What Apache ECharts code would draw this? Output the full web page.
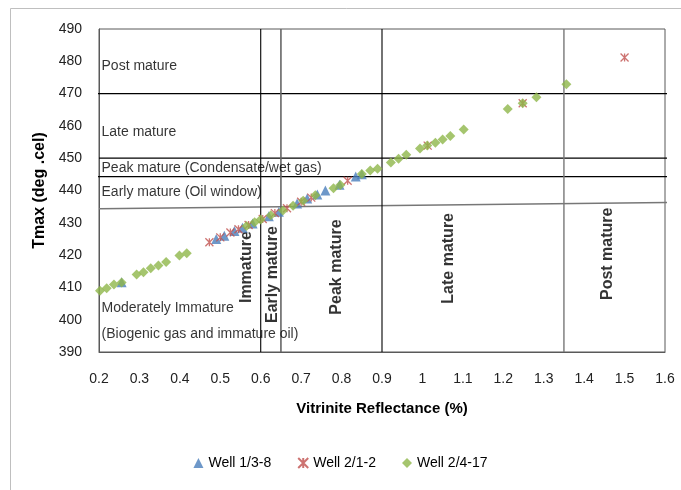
<!DOCTYPE html>
<html><head><meta charset="utf-8">
<script src="https://cdn.jsdelivr.net/npm/echarts@6/dist/echarts.min.js"></script>
<style>html,body{margin:0;padding:0;background:#fff}#c{width:681px;height:490px}</style>
</head><body><div id="c"></div>
<script>
// ---- data ----
const seriesNames = ['Well 1/3-8', 'Well 2/1-2', 'Well 2/4-17'];
const well138 = [[0.256,411.6],[0.49,425],[0.51,426],[0.535,427.5],[0.555,428.5],[0.58,429.8],[0.62,432],[0.645,433.4],[0.69,436],[0.715,437.5],[0.74,438.8],[0.76,440],[0.795,441.8],[0.835,444.3],[0.85,445]];
const well212 = [[0.473,424],[0.50,425.5],[0.525,427],[0.545,428],[0.57,429.3],[0.605,431.2],[0.635,433],[0.665,434.5],[0.70,436.5],[0.725,437.8],[0.815,443],[1.013,453.9],[1.248,467],[1.5,481.2]];
const well2417 = [[0.2025,409],[0.219,409.7],[0.237,410.9],[0.256,411.5],[0.293,414],[0.31,414.7],[0.328,415.9],[0.347,416.8],[0.366,417.9],[0.399,419.9],[0.417,420.6],[0.565,429],[0.585,430.2],[0.6,431],[0.625,432.3],[0.655,433.8],[0.68,435.3],[0.705,436.8],[0.735,438.5],[0.78,440.7],[0.797,441.7],[0.85,445.1],[0.871,446.2],[0.889,446.7],[0.922,448.7],[0.941,449.8],[0.96,451.1],[0.994,453],[1.012,453.9],[1.032,454.8],[1.05,455.8],[1.069,456.9],[1.102,458.9],[1.211,465.2],[1.248,467],[1.282,468.9],[1.356,472.9]];

// zone boundaries
const hBoundaryY = [470, 450, 444.3];
const hBoundaryX = [[0.194, 1.605], [0.2, 1.605], [0.194, 1.605]];
const slantBoundary = [[0.2, 434.35], [1.605, 436.3]];
const vBoundaryX = [0.6, 0.65, 0.9, 1.35];

// zone labels (anchor values)
const hZoneText = ['Post mature', 'Late mature', 'Peak mature (Condensate/wet gas)', 'Early mature (Oil window)', 'Moderately Immature', '(Biogenic gas and immature oil)'];
const hZoneX = [0.205, 0.205, 0.205, 0.205, 0.205, 0.205];
const hZoneY = [478.4, 458, 446.9, 439.6, 403.5, 395.5];
const vZoneText = ['Immature', 'Early mature', 'Peak mature', 'Late mature', 'Post mature'];
const vZoneX = [0.566, 0.63, 0.787, 1.065, 1.459];
const vZoneY = [416.3, 414, 416.3, 419, 420.4];

// axes
const xMin = 0.2, xMax = 1.6, xStep = 0.1;
const yMin = 390, yMax = 490, yStep = 10;

const FONT = '"Liberation Sans", Arial, sans-serif';
const starPath = 'path://M0,0L10,10M10,0L0,10M5,0L5,10';

const lineSeries = [];
hBoundaryY.forEach((y, i) => {
  lineSeries.push({type:'line', silent:true, clip:false, symbol:'none', z:1,
    lineStyle:{color:'#000', width:1.2}, data:[[hBoundaryX[i][0], y],[hBoundaryX[i][1], y]]});
});
lineSeries.push({type:'line', silent:true, clip:false, symbol:'none', z:1,
  lineStyle:{color:'#777', width:1.6}, data: slantBoundary});
const vColors = ['#000', '#666', '#000', '#777'];
const vWidths = [1.1, 1.6, 1.1, 1.4];
vBoundaryX.forEach((x, i) => {
  lineSeries.push({type:'line', silent:true, symbol:'none', z:1,
    lineStyle:{color:vColors[i], width:vWidths[i]}, data:[[x, yMin],[x, yMax]]});
});

const hLabelSeries = {
  type:'scatter', silent:true, symbolSize:1, itemStyle:{color:'rgba(0,0,0,0)'}, z:3,
  data: hZoneText.map((t, i) => ({name:t, value:[hZoneX[i], hZoneY[i]]})),
  label:{show:true, position:'right', distance:0, formatter:p => p.name,
    color:'#000', fontSize:14, fontFamily:FONT, align:'left', verticalAlign:'middle'}
};
const vLabelSeries = {
  type:'scatter', silent:true, symbolSize:1, itemStyle:{color:'rgba(0,0,0,0)'}, z:3,
  data: vZoneText.map((t, i) => ({name:t, value:[vZoneX[i], vZoneY[i]]})),
  label:{show:true, position:'inside', rotate:90, formatter:p => p.name,
    color:'#000', fontSize:16, fontWeight:'bold', fontFamily:FONT}
};

const chart = echarts.init(document.getElementById('c'));
chart.setOption({
  animation:false,
  backgroundColor:'#fff',
  graphic:[{type:'rect', shape:{x:10.5, y:8.5, width:720, height:520},
    style:{fill:'none', stroke:'#bfbfbf', lineWidth:1}, z:-10}],
  grid:{left:99, right:16, top:29, bottom:138, show:true, borderColor:'#595959', borderWidth:1},
  legend:{data: seriesNames, bottom:15, left:'center', itemGap:26, itemWidth:10, itemHeight:10,
    textStyle:{fontSize:14, fontFamily:FONT, color:'#000'}},
  xAxis:{type:'value', min:xMin, max:xMax, interval:xStep,
    name:'Vitrinite Reflectance (%)', nameLocation:'middle', nameGap:49,
    nameTextStyle:{fontSize:15, fontWeight:'bold', fontFamily:FONT, color:'#000'},
    axisLine:{show:true, lineStyle:{color:'#595959'}}, axisTick:{show:false}, splitLine:{show:false},
    axisLabel:{margin:20, fontSize:14, fontFamily:FONT, color:'#222', formatter:v => String(Math.round(v*10)/10)}},
  yAxis:{type:'value', min:yMin, max:yMax, interval:yStep,
    name:'Tmax (deg .cel)', nameLocation:'middle', nameGap:44, nameRotate:90,
    nameTextStyle:{fontSize:16, fontWeight:'bold', fontFamily:FONT, color:'#000'},
    axisLine:{show:true, lineStyle:{color:'#595959'}}, axisTick:{show:false}, splitLine:{show:false},
    axisLabel:{margin:17, fontSize:14, fontFamily:FONT, color:'#222'}},
  series:[
    ...lineSeries,
    hLabelSeries, vLabelSeries,
    {name:seriesNames[0], type:'scatter', symbol:'triangle', symbolSize:10, z:4,
      itemStyle:{color:'#4a7ebb'}, data:well138},
    {name:seriesNames[1], type:'scatter', symbol:starPath, symbolSize:8, z:5,
      itemStyle:{color:'rgba(0,0,0,0)', borderColor:'#c0504d', borderWidth:1.3}, data:well212},
    {name:seriesNames[2], type:'scatter', symbol:'diamond', symbolSize:10, z:6,
      itemStyle:{color:'#8fb74a'}, data:well2417}
  ]
});
</script></body></html>
